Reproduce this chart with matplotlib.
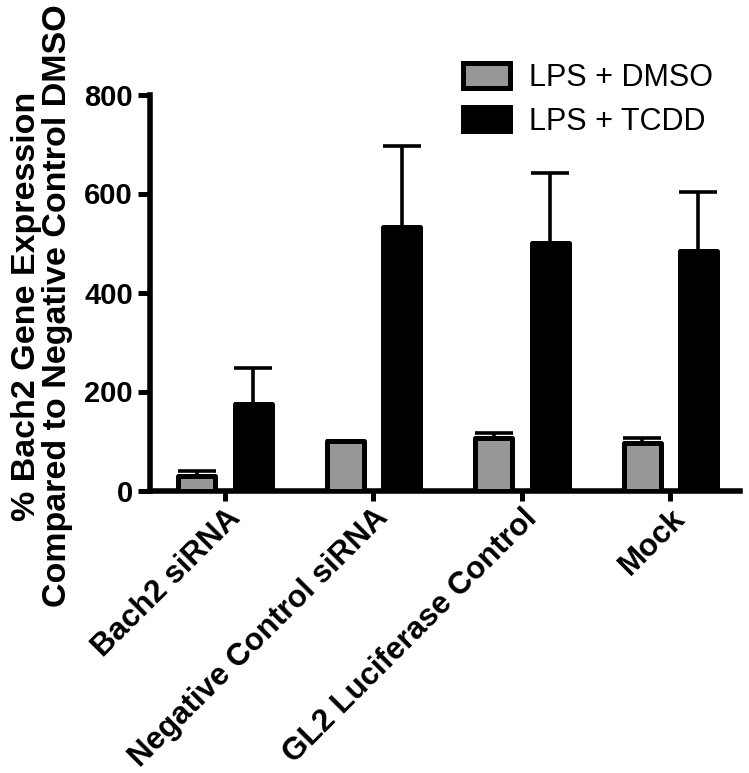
import matplotlib
matplotlib.use("Agg")
import matplotlib.pyplot as plt
import numpy as np
from matplotlib.patches import Patch
import matplotlib.transforms as mtransforms

plt.rcParams['font.family'] = ['Liberation Sans', 'DejaVu Sans']

categories = ["Bach2 siRNA", "Negative Control siRNA", "GL2 Luciferase Control", "Mock"]
dmso_values = [30, 100, 107, 96]
dmso_err = [9, 0, 10, 11]
tcdd_values = [175, 533, 501, 484]
tcdd_err = [72, 162, 140, 119]
series_labels = ["LPS + DMSO", "LPS + TCDD"]
yticks = [0, 200, 400, 600, 800]

fig = plt.figure(figsize=(7.49, 7.73), dpi=100)
ax = fig.add_axes([150/749, 1-490.5/773, (740-150)/749, (490.5-94.5)/773])

x = np.arange(len(categories))
off = 0.19
w = 0.25
lw = 3.6
gray = '#979797'

ax.bar(x - off, dmso_values, width=w, color=gray, edgecolor='black', linewidth=lw,
       joinstyle='round', zorder=3)
ax.bar(x + off, tcdd_values, width=w, color='black', edgecolor='black', linewidth=lw,
       joinstyle='round', zorder=3)
ax.errorbar(x - off, dmso_values, yerr=[np.zeros(len(x)), dmso_err], fmt='none',
            ecolor='black', elinewidth=2.6, capsize=14, capthick=2.6, zorder=2)
ax.errorbar(x + off, tcdd_values, yerr=[np.zeros(len(x)), tcdd_err], fmt='none',
            ecolor='black', elinewidth=2.6, capsize=14, capthick=2.6, zorder=2)

ax.set_xlim(-0.506, 3.47)
ax.set_ylim(0, 800)
ax.set_yticks(yticks)
ax.set_yticklabels([str(t) for t in yticks], fontsize=21, fontweight='bold')
ax.set_xticks(x)
ax.set_xticklabels(categories, fontsize=22.5, fontweight='bold', rotation=45,
                   ha='right', va='top', rotation_mode='anchor')
offset = mtransforms.ScaledTranslation(-13/100, -27/100, fig.dpi_scale_trans)
for lab in ax.get_xticklabels():
    lab.set_transform(lab.get_transform() + offset)

for s in ['top', 'right']:
    ax.spines[s].set_visible(False)
for s in ['left', 'bottom']:
    ax.spines[s].set_linewidth(4)
ax.tick_params(axis='y', length=8.6, width=3.6, pad=3.6)
ax.tick_params(axis='x', length=7, width=3.6, pad=2)

fig.text(42/749, 1-306/773, "% Bach2 Gene Expression\nCompared to Negative Control DMSO",
         rotation=90, ha='center', va='center', multialignment='center',
         fontsize=24.5, fontweight='bold', linespacing=1.0)

handles = [Patch(facecolor=gray, edgecolor='black', linewidth=lw, joinstyle='round'),
           Patch(facecolor='black', edgecolor='black', linewidth=lw, joinstyle='round')]
ax.legend(handles, series_labels, loc='upper left',
          bbox_to_anchor=(463/749, 1-63/773), bbox_transform=fig.transFigure,
          frameon=False, fontsize=22, handlelength=1.55, handleheight=0.85,
          handletextpad=0.62, labelspacing=0.45, borderpad=0, borderaxespad=0)

fig.savefig("out.png", dpi=100)
